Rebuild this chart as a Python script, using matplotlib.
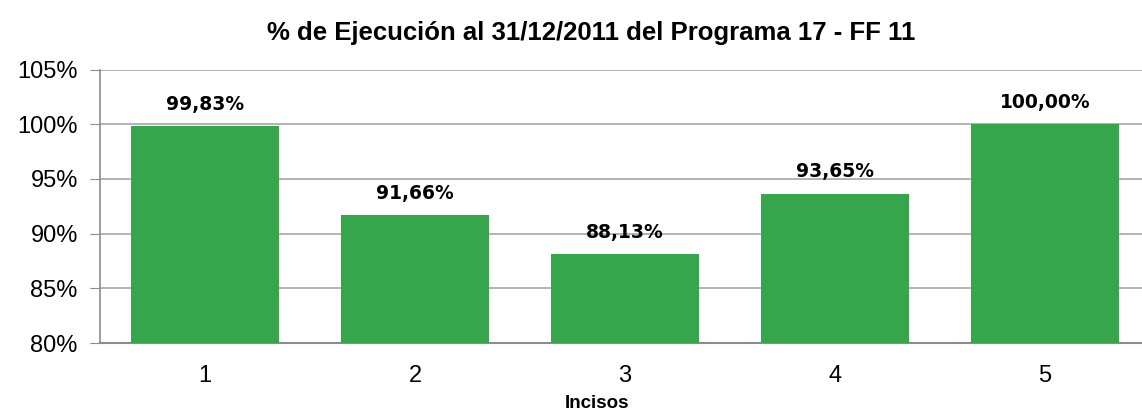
import matplotlib.pyplot as plt
import numpy as np

incisos = ["1", "2", "3", "4", "5"]
ejecucion = [99.83, 91.66, 88.13, 93.65, 100.00]
etiquetas = ["99,83%", "91,66%", "88,13%", "93,65%", "100,00%"]

plt.rcParams["font.family"] = ["Liberation Sans", "DejaVu Sans"]

fig = plt.figure(figsize=(11.42, 4.12), dpi=100)
ax = fig.add_axes([100 / 1142, (412 - 343) / 412, 1050 / 1142, (343 - 69.5) / 412])

x = np.arange(len(incisos))
ax.bar(x, [v - 80 for v in ejecucion], bottom=80, width=0.705, color="#36a54c", zorder=3)

for xi, v, t in zip(x, ejecucion, etiquetas):
    ax.annotate(t, (xi, v), xytext=(0, 9), textcoords="offset points",
                ha="center", va="bottom", fontsize=13.5, fontweight="bold",
                family=["DejaVu Sans"])

ax.set_xlim(-0.5, 4.5)
ax.set_ylim(80, 105)
ax.set_yticks(np.arange(80, 106, 5))
ax.set_yticklabels([f"{v}%" for v in range(80, 106, 5)], fontsize=17)
ax.set_xticks(x)
ax.set_xticklabels(incisos, fontsize=17)
ax.tick_params(axis="x", length=0, pad=16)
ax.tick_params(axis="y", length=7, color="#8c8c8c", pad=9)
ax.grid(axis="y", color="#a6a6a6", linewidth=1.2, zorder=0)
for s in ["top", "right"]:
    ax.spines[s].set_visible(False)
ax.spines["left"].set_color("#8c8c8c")
ax.spines["bottom"].set_color("#8c8c8c")
ax.spines["left"].set_linewidth(1.2)
ax.spines["bottom"].set_linewidth(1.5)

fig.text(591 / 1142, 1 - 33 / 412, "% de Ejecución al 31/12/2011 del Programa 17 - FF 11",
         ha="center", va="center", fontsize=18.5, fontweight="bold")
fig.text(597 / 1142, 1 - 403 / 412, "Incisos", ha="center", va="center",
         fontsize=13.5, fontweight="bold")

fig.savefig("out.png", dpi=100)
